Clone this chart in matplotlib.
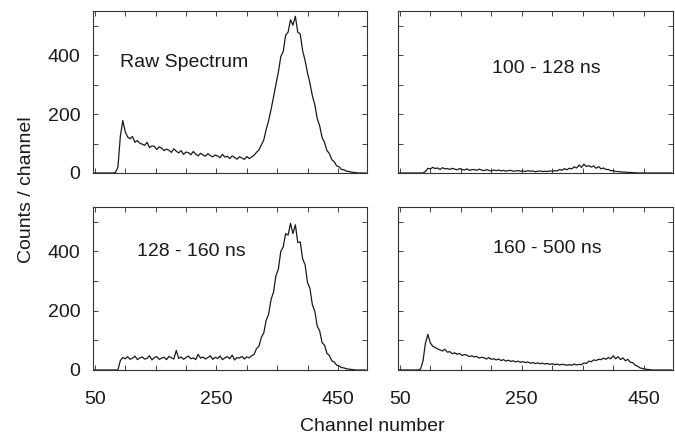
import numpy as np
import matplotlib.pyplot as plt

plt.rcParams['font.family'] = ['Liberation Sans', 'DejaVu Sans']

# channel grid (every 4th channel)
channels = np.arange(48, 500, 4)

# counts / channel
raw = [0, 0, 0, 0, 0, 0, 0, 0, 0, 2,
       20, 125, 178, 140, 122, 116, 124, 104, 110, 101,
       98, 94, 104, 86, 92, 90, 80, 89, 84, 76,
       81, 77, 70, 82, 74, 68, 76, 63, 71, 69,
       62, 73, 64, 58, 67, 61, 57, 66, 59, 55,
       61, 58, 52, 63, 54, 57, 49, 58, 53, 47,
       55, 51, 46, 56, 49, 54, 60, 70, 78, 95,
       112, 148, 178, 215, 258, 300, 342, 395, 412, 468,
       478, 520, 502, 532, 478, 472, 415, 382, 340, 305,
       262, 232, 185, 160, 120, 104, 76, 66, 45, 38,
       24, 21, 12, 11, 6, 5, 3, 2, 1, 0,
       0, 0, 0]

gate_100_128 = [0, 0, 0, 0, 0, 0, 0, 0, 0, 0,
                0, 5, 16, 14, 19, 15, 17, 12, 18, 14,
                15, 12, 16, 13, 11, 15, 12, 10, 14, 9,
                11, 12, 9, 13, 10, 8, 11, 9, 7, 10,
                8, 10, 7, 9, 6, 8, 9, 6, 7, 8,
                6, 7, 5, 8, 6, 7, 4, 6, 7, 5,
                6, 5, 7, 6, 8, 7, 12, 9, 15, 11,
                16, 14, 21, 17, 27, 19, 30, 22, 25, 20,
                24, 16, 22, 14, 17, 12, 12, 8, 8, 5,
                5, 4, 3, 3, 2, 2, 1, 1, 0, 0,
                0, 0, 0, 0, 0, 0, 0, 0, 0, 0,
                0, 0, 0]

gate_128_160 = [0, 0, 0, 0, 0, 0, 0, 0, 0, 0,
                0, 32, 42, 38, 45, 36, 40, 47, 35, 41,
                44, 37, 39, 48, 34, 42, 45, 36, 40, 43,
                35, 46, 41, 37, 66, 39, 44, 36, 42, 47,
                38, 41, 35, 53, 40, 44, 37, 42, 48, 36,
                43, 39, 47, 35, 41, 45, 38, 50, 34, 42,
                40, 46, 37, 44, 41, 48, 52, 72, 80, 110,
                125, 168, 188, 238, 262, 318, 340, 400, 415, 460,
                455, 495, 460, 490, 430, 432, 375, 355, 295, 275,
                220, 198, 148, 132, 92, 84, 56, 49, 31, 27,
                16, 14, 8, 7, 4, 3, 2, 1, 0, 0,
                0, 0, 0]

gate_160_500 = [0, 0, 0, 0, 0, 0, 0, 0, 0, 3,
                30, 90, 120, 92, 80, 76, 71, 68, 64, 70,
                60, 62, 55, 58, 53, 56, 49, 52, 50, 45,
                48, 44, 46, 40, 43, 41, 37, 42, 36, 38,
                34, 37, 32, 35, 30, 33, 29, 31, 27, 30,
                26, 28, 25, 27, 23, 25, 22, 24, 21, 23,
                20, 22, 19, 21, 18, 20, 17, 19, 18, 16,
                18, 16, 20, 17, 19, 18, 24, 22, 30, 28,
                34, 32, 36, 35, 40, 36, 42, 38, 48, 38,
                45, 35, 41, 31, 36, 26, 25, 16, 13, 7,
                5, 3, 2, 1, 0, 0, 0, 0, 0, 0,
                0, 0, 0]

panels = [
    (raw, 'Raw Spectrum', [0.1378, 0.6095, 0.406, 0.3657], (0.10, 0.685), True, False),
    (gate_100_128, '100 - 128 ns', [0.5896, 0.6095, 0.4074, 0.3657], (0.342, 0.648), False, False),
    (gate_128_160, '128 - 160 ns', [0.1378, 0.1648, 0.406, 0.368], (0.16, 0.724), True, True),
    (gate_160_500, '160 - 500 ns', [0.5896, 0.1648, 0.4074, 0.368], (0.345, 0.748), False, True),
]

fig = plt.figure(figsize=(6.75, 4.43), dpi=100)
ink = '#1a1a1a'
fs = 14

for counts, label, pos, txt, left_labels, bottom_labels in panels:
    ax = fig.add_axes(pos)
    ax.plot(channels, counts, color=ink, lw=0.9)
    ax.set_xlim(47, 498)
    ax.set_ylim(0, 550)
    ax.set_xticks(np.arange(50, 451, 50))
    ax.set_yticks(np.arange(0, 501, 100))
    ax.tick_params(direction='in', top=True, right=True, length=3.5,
                   width=0.7, color='#444444', labelsize=fs, colors=ink)
    ax.tick_params(axis='x', pad=15)
    ax.tick_params(axis='y', pad=9)
    if bottom_labels:
        ax.set_xticklabels(['50', '', '', '', '250', '', '', '', '450'])
    else:
        ax.set_xticklabels([])
    if left_labels:
        ax.set_yticklabels(['0', '', '200', '', '400', ''])
    else:
        ax.set_yticklabels([])
    for s in ax.spines.values():
        s.set_linewidth(0.8)
        s.set_color('#333333')
    ax.text(txt[0], txt[1], label, transform=ax.transAxes, fontsize=fs,
            color=ink, va='center', ha='left')

fig.text(0.040, 0.571, 'Counts / channel', rotation=90, fontsize=fs,
         color=ink, va='center', ha='center')
fig.text(0.551, 0.038, 'Channel number', fontsize=fs, color=ink,
         va='center', ha='center')

fig.savefig('out.png', dpi=100)
